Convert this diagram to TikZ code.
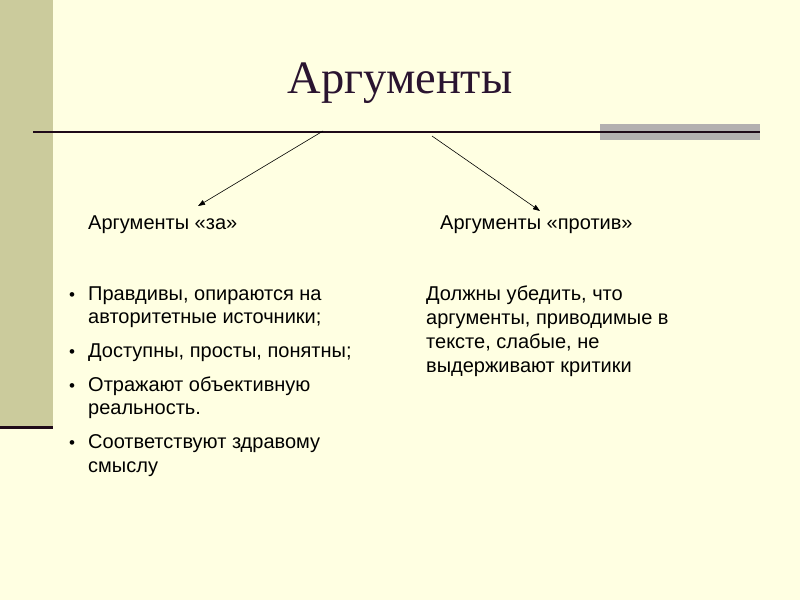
\documentclass[tikz,border=0pt]{standalone}
\usepackage{fontspec}
\setmainfont{Liberation Sans}
\newfontfamily\titlefont{Liberation Serif}
\usetikzlibrary{arrows.meta}
\definecolor{bg}{HTML}{FFFFE2}
\definecolor{side}{HTML}{CBCB9C}
\definecolor{rule}{HTML}{1F0A19}
\definecolor{grayband}{HTML}{B3B0B0}
\definecolor{titlecol}{HTML}{2A1430}
\tikzset{
  txt/.style={anchor=base west, inner sep=0pt, font=\fontsize{20}{23}\selectfont, text=black},
  bul/.style={anchor=base west, inner sep=0pt, font=\fontsize{17}{17}\selectfont, text=black},
  arr/.style={draw=black, line width=0.6pt, -{Triangle[length=7pt,width=5pt]}}
}
\begin{document}
\begin{tikzpicture}[x=1pt,y=-1pt]
\useasboundingbox (0,0) rectangle (800,600);
\fill[bg] (0,0) rectangle (800,600);
\fill[side] (0,0) rectangle (53,426);
\draw[rule, line width=3pt] (0,427) -- (53,427);
\fill[grayband] (600,124) rectangle (760,140);
\draw[rule, line width=2.5pt] (33,132) -- (760,132);
\node[anchor=base, inner sep=0pt, font=\titlefont\fontsize{46.5}{46.5}\selectfont, text=titlecol] (title) at (400,93) {Аргументы};
\coordinate (s1) at (323,131);
\coordinate (e1) at (198,206);
\coordinate (s2) at (432,136);
\coordinate (e2) at (540,211);
\draw[arr] (s1) -- (e1);
\draw[arr] (s2) -- (e2);
\node[txt] (lza) at (88,229) {Аргументы «за»};
\node[txt] (lpr) at (440,229) {Аргументы «против»};
\node[bul] (b1) at (69,300) {•};
\node[txt] (t1a) at (88,300) {Правдивы, опираются на};
\node[txt] (t1b) at (88,323) {авторитетные источники;};
\node[bul] (b2) at (69,357) {•};
\node[txt] (t2) at (88,357) {Доступны, просты, понятны;};
\node[bul] (b3) at (69,391) {•};
\node[txt] (t3a) at (88,391) {Отражают объективную};
\node[txt] (t3b) at (88,414) {реальность.};
\node[bul] (b4) at (69,448) {•};
\node[txt] (t4a) at (88,448) {Соответствуют здравому};
\node[txt] (t4b) at (88,472) {смыслу};
\node[txt] (r1) at (426,300) {Должны убедить, что};
\node[txt] (r2) at (426,324) {аргументы, приводимые в};
\node[txt] (r3) at (426,348) {тексте, слабые, не};
\node[txt] (r4) at (426,372) {выдерживают критики};
\end{tikzpicture}
\end{document}
